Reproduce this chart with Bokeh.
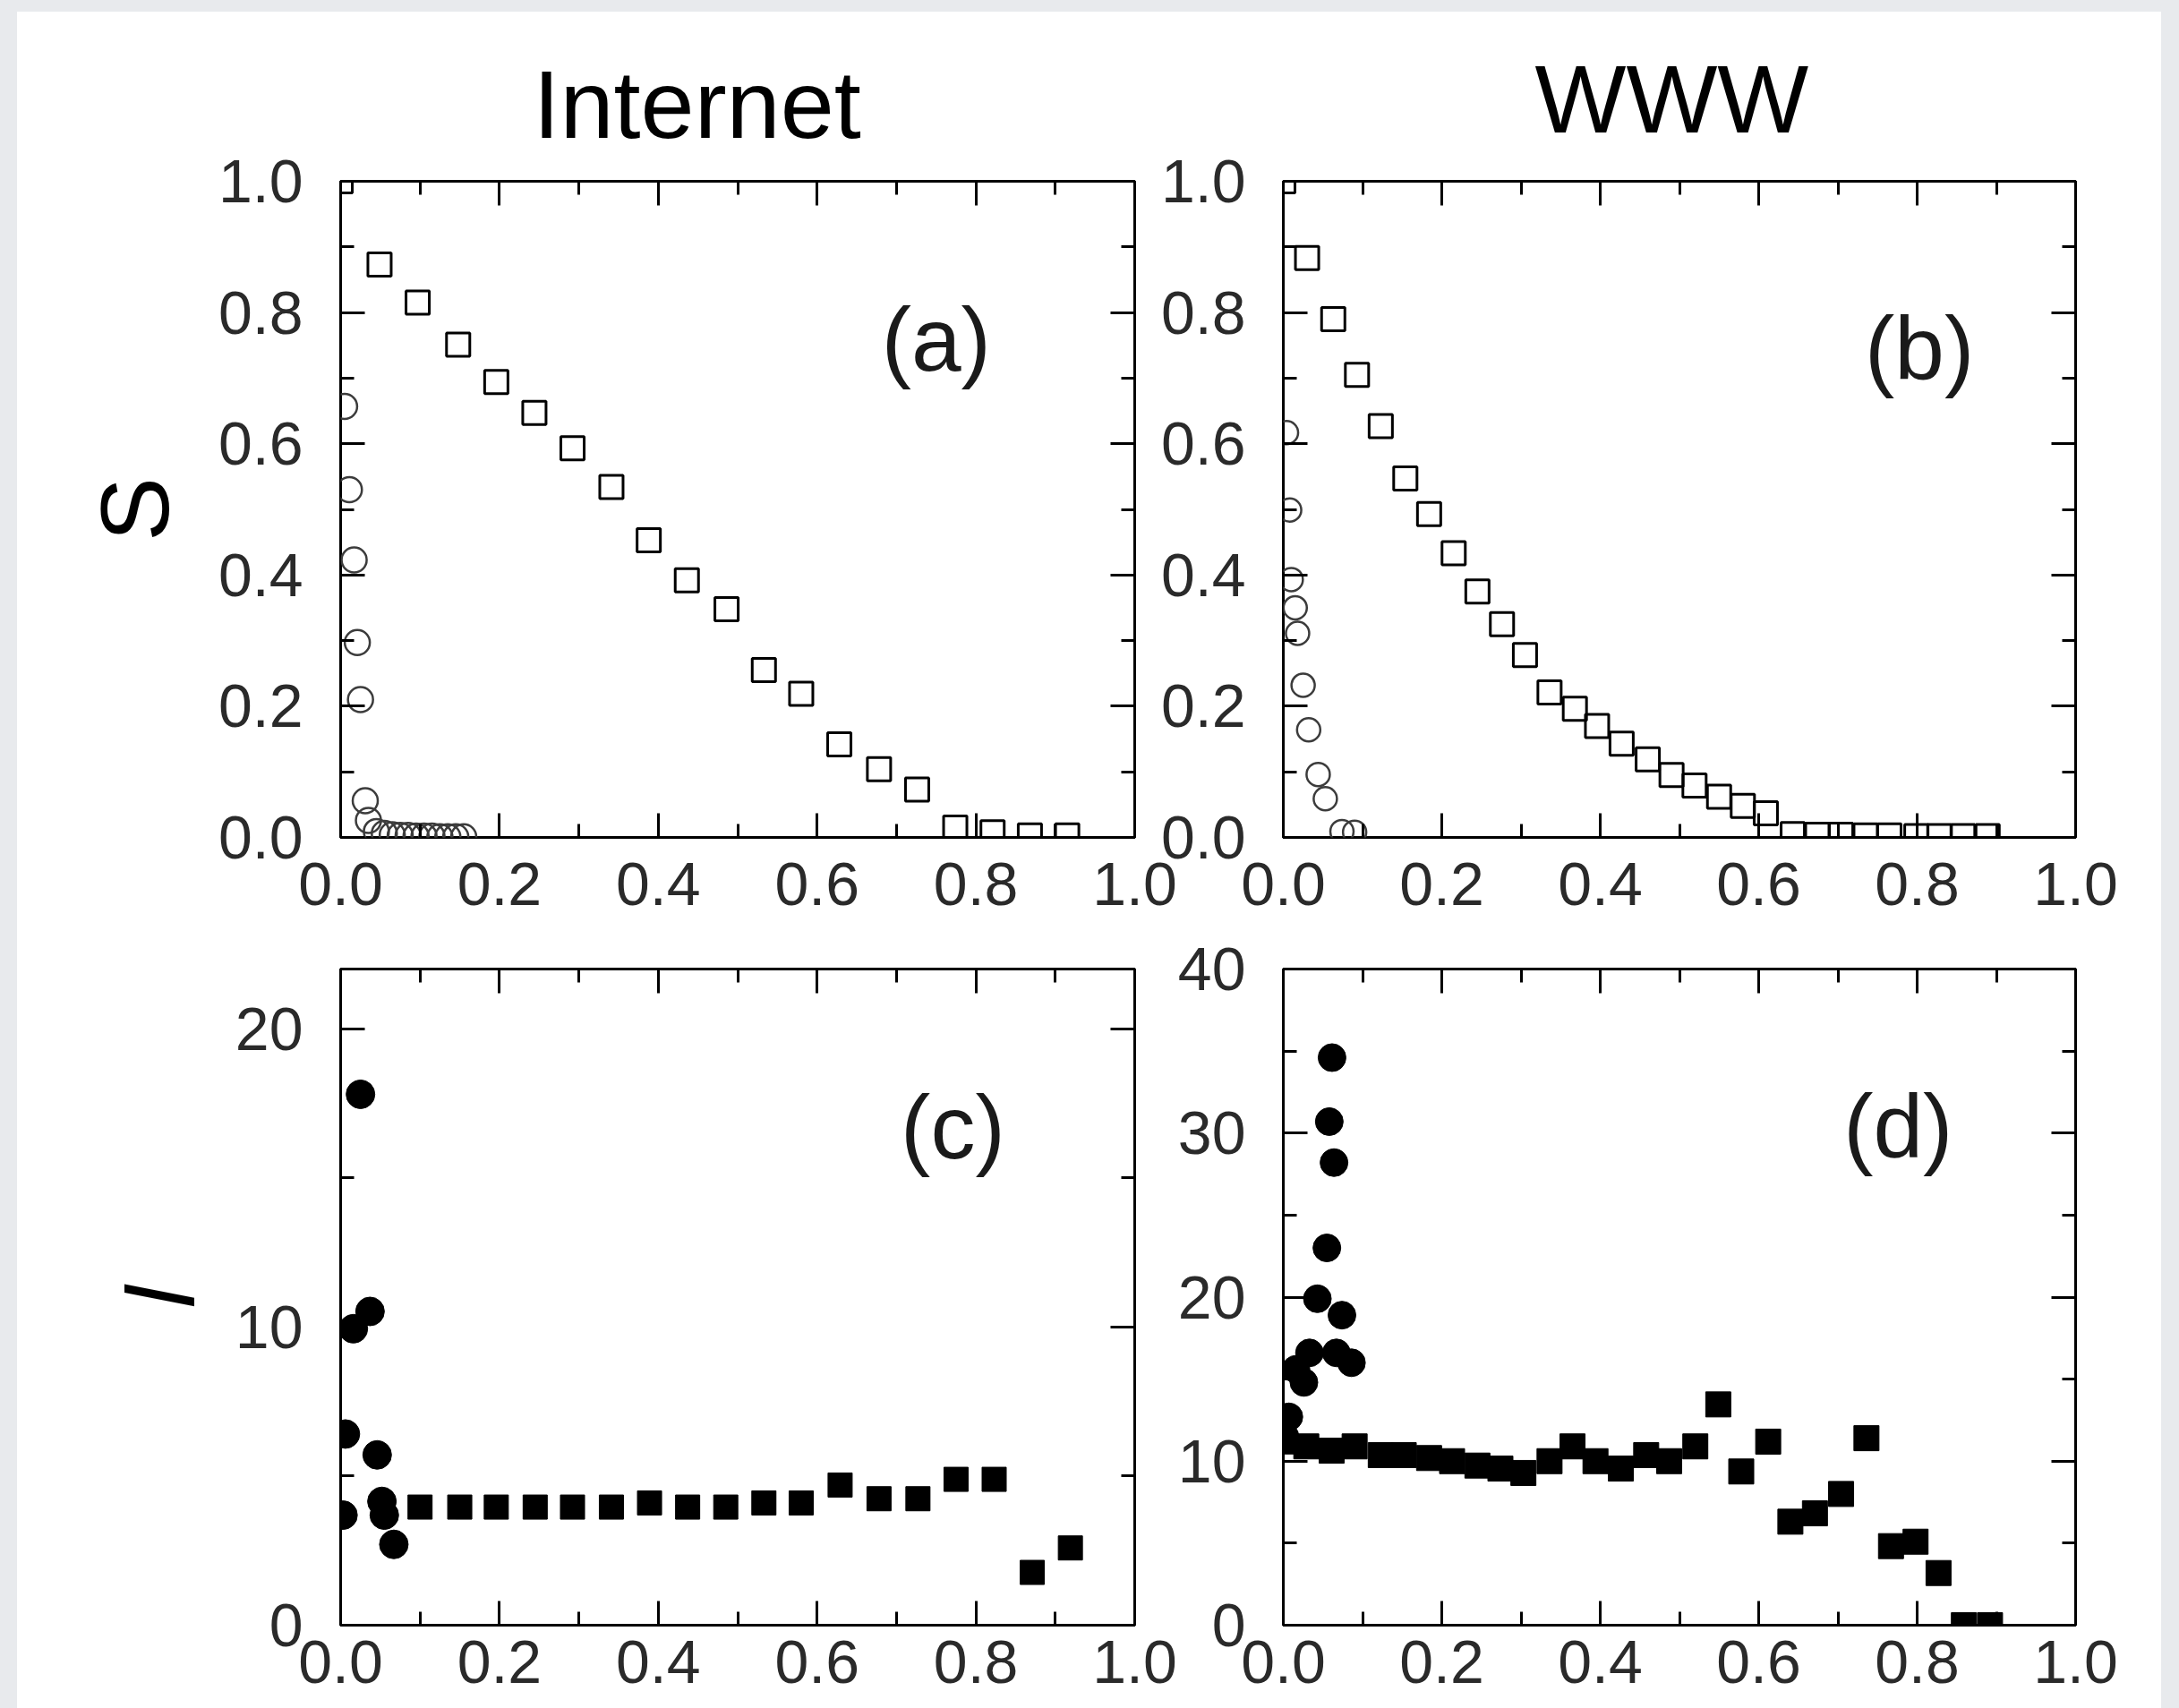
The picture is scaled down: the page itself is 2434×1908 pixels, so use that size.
from bokeh.plotting import figure
from bokeh.models import (LinearAxis, FixedTicker, Range1d, Label, NumeralTickFormatter)
from bokeh.layouts import column, row
from bokeh.embed import file_html
from bokeh.resources import INLINE

FONT = "Liberation Sans"

# ---------------- data ----------------
# (a) Internet, S vs f
a_fail_x = [0.0, 0.049, 0.097, 0.148, 0.196, 0.244, 0.292, 0.341, 0.388, 0.436,
            0.486, 0.533, 0.580, 0.628, 0.678, 0.726, 0.774, 0.821, 0.868, 0.915]
a_fail_S = [1.0, 0.873, 0.815, 0.751, 0.694, 0.647, 0.593, 0.534, 0.453, 0.392,
            0.348, 0.255, 0.219, 0.142, 0.104, 0.073, 0.015, 0.008, 0.003, 0.003]
a_att_x = [0.005, 0.011, 0.017, 0.021, 0.025, 0.031, 0.035, 0.045, 0.055, 0.065,
           0.075, 0.085, 0.095, 0.105, 0.115, 0.125, 0.135, 0.145, 0.155]
a_att_S = [0.657, 0.530, 0.423, 0.297, 0.210, 0.056, 0.026, 0.009, 0.006, 0.004,
           0.003, 0.003, 0.002, 0.002, 0.002, 0.001, 0.001, 0.001, 0.001]

# (b) WWW, S vs f
b_fail_x = [0.0, 0.030, 0.063, 0.093, 0.123, 0.154, 0.184, 0.215, 0.245, 0.276,
            0.305, 0.336, 0.368, 0.396, 0.427, 0.460, 0.490, 0.519, 0.550, 0.580,
            0.609, 0.643, 0.674, 0.704, 0.735, 0.765, 0.799, 0.828, 0.858, 0.889]
b_fail_S = [1.0, 0.883, 0.790, 0.705, 0.627, 0.547, 0.493, 0.433, 0.375, 0.325,
            0.278, 0.221, 0.196, 0.170, 0.143, 0.119, 0.095, 0.079, 0.062, 0.048,
            0.037, 0.005, 0.004, 0.004, 0.003, 0.003, 0.002, 0.002, 0.002, 0.002]
b_att_x = [0.004, 0.008, 0.010, 0.015, 0.018, 0.025, 0.032, 0.044, 0.053, 0.074, 0.090]
b_att_S = [0.617, 0.499, 0.393, 0.350, 0.311, 0.232, 0.164, 0.096, 0.059, 0.009, 0.008]

# (c) Internet, l vs f
c_fail_x = [0.100, 0.150, 0.196, 0.245, 0.292, 0.341, 0.389, 0.437, 0.485, 0.533,
            0.580, 0.629, 0.678, 0.727, 0.775, 0.823, 0.871, 0.919]
c_fail_l = [3.96, 3.96, 3.96, 3.96, 3.96, 3.96, 4.10, 3.96, 3.96, 4.10,
            4.10, 4.70, 4.24, 4.24, 4.89, 4.89, 1.77, 2.59]
c_att_x = [0.003, 0.006, 0.016, 0.025, 0.037, 0.046, 0.052, 0.055, 0.067]
c_att_l = [3.69, 6.41, 9.94, 17.8, 10.52, 5.71, 4.15, 3.69, 2.71]

# (d) WWW, l vs f
d_fail_x = [0.0, 0.029, 0.061, 0.090, 0.123, 0.152, 0.184, 0.213, 0.245, 0.274,
            0.303, 0.336, 0.365, 0.394, 0.426, 0.458, 0.487, 0.520, 0.549, 0.578,
            0.612, 0.640, 0.671, 0.704, 0.736, 0.767, 0.798, 0.827, 0.859, 0.892]
d_fail_l = [11.2, 10.9, 10.64, 10.9, 10.37, 10.37, 10.19, 10.0, 9.73, 9.55,
            9.28, 10.0, 10.9, 10.0, 9.55, 10.37, 10.0, 10.9, 13.46, 9.37,
            11.19, 6.31, 6.82, 8.0, 11.4, 4.82, 5.09, 3.18, 0.0, 0.0]
d_att_x = [0.002, 0.007, 0.016, 0.026, 0.033, 0.043, 0.055, 0.058, 0.0615, 0.064,
           0.067, 0.074, 0.086]
d_att_l = [11.5, 12.7, 15.6, 14.8, 16.6, 19.9, 23.0, 30.7, 34.6, 28.2,
           16.6, 18.9, 16.0]

# ticks
x_ticks = [0.0, 0.2, 0.4, 0.6, 0.8, 1.0]
x_tick_labels = ["0.0", "0.2", "0.4", "0.6", "0.8", "1.0"]
x_minor = [0.1, 0.3, 0.5, 0.7, 0.9]
S_ticks = [0.0, 0.2, 0.4, 0.6, 0.8, 1.0]
S_tick_labels = ["0.0", "0.2", "0.4", "0.6", "0.8", "1.0"]
S_minor = [0.1, 0.3, 0.5, 0.7, 0.9]
lc_ticks = [0, 10, 20]
lc_tick_labels = ["0", "10", "20"]
lc_minor = [5, 15]
ld_ticks = [0, 10, 20, 30, 40]
ld_tick_labels = ["0", "10", "20", "30", "40"]
ld_minor = [5, 15, 25, 35]

titles = ["Internet", "WWW"]
panel_tags = ["(a)", "(b)", "(c)", "(d)"]

FH = 733
MAJ, MIN = 27, 15


def style_axis(ax, ticker, labels, fontsize="68px", standoff=20, hidden=False):
    ax.ticker = ticker
    ax.axis_line_color = None
    ax.major_tick_in = MAJ
    ax.major_tick_out = 0
    ax.minor_tick_in = MIN
    ax.minor_tick_out = 0
    ax.major_tick_line_width = 3
    ax.minor_tick_line_width = 3
    ax.major_tick_line_color = "black"
    ax.minor_tick_line_color = "black"
    if hidden:
        ax.major_label_text_color = None
        ax.major_label_text_font_size = "1px"
        ax.major_label_standoff = 0
    else:
        ax.major_label_overrides = dict(zip(ticker.ticks, labels))
        ax.major_label_text_font = FONT
        ax.major_label_text_font_size = fontsize
        ax.major_label_text_color = "#2a2a2a"
        ax.major_label_standoff = standoff


def make_panel(fw, yr, yt, ytl, ym, fmt, mb, ml, mr, mt, xstd, ystd):
    p = figure(frame_width=fw, frame_height=FH, x_range=Range1d(0, 1.0),
               y_range=Range1d(*yr), output_backend="svg", toolbar_location=None,
               min_border_left=ml, min_border_right=mr, min_border_top=mt,
               min_border_bottom=mb)
    p.grid.visible = False
    p.outline_line_color = "black"
    p.outline_line_width = 3
    p.background_fill_color = "white"
    p.border_fill_color = None
    xt = FixedTicker(ticks=x_ticks, minor_ticks=x_minor)
    ytk = FixedTicker(ticks=yt, minor_ticks=ym)
    p.xaxis.formatter = NumeralTickFormatter(format="0.0")
    p.yaxis.formatter = NumeralTickFormatter(format=fmt)
    style_axis(p.xaxis[0], xt, x_tick_labels, standoff=xstd)
    style_axis(p.yaxis[0], ytk, ytl, standoff=ystd)
    top = LinearAxis()
    style_axis(top, FixedTicker(ticks=x_ticks, minor_ticks=x_minor), None, hidden=True)
    p.add_layout(top, "above")
    right = LinearAxis()
    style_axis(right, FixedTicker(ticks=yt, minor_ticks=ym), None, hidden=True)
    p.add_layout(right, "right")
    return p


def set_title(p, text, offset, standoff):
    p.title.text = text
    p.title.align = "left"
    p.title.offset = offset
    p.title.standoff = standoff
    p.title.text_font = FONT
    p.title.text_font_size = "108px"
    p.title.text_font_style = "normal"
    p.title.text_color = "black"


# (a)
pa = make_panel(887, (0, 1.0), S_ticks, S_tick_labels, S_minor, "0.0",
                mb=104, ml=361, mr=50, mt=189, xstd=28, ystd=42)
pa.yaxis[0].axis_label = "S"
pa.yaxis[0].axis_label_text_font = FONT
pa.yaxis[0].axis_label_text_font_size = "108px"
pa.yaxis[0].axis_label_text_font_style = "normal"
pa.yaxis[0].axis_label_text_color = "black"
pa.yaxis[0].axis_label_standoff = 30
pa.scatter(a_fail_x, a_fail_S, marker="square", size=26, fill_color=None,
           line_color="black", line_width=3)
pa.scatter(a_att_x, a_att_S, marker="circle", size=28, fill_color=None,
           line_color="#3c3c3c", line_width=2.5)
set_title(pa, titles[0], 215, 52)

# (b)
pb = make_panel(885, (0, 1.0), S_ticks, S_tick_labels, S_minor, "0.0",
                mb=104, ml=146, mr=96, mt=189, xstd=28, ystd=42)
pb.margin = (0, 0, 0, -30)
pb.scatter(b_fail_x, b_fail_S, marker="square", size=26, fill_color=None,
           line_color="black", line_width=3)
pb.scatter(b_att_x, b_att_S, marker="circle", size=26, fill_color=None,
           line_color="#3c3c3c", line_width=2.5)
set_title(pb, titles[1], 281, 64)

# (c)
pc = make_panel(887, (0, 22), lc_ticks, lc_tick_labels, lc_minor, "0",
                mb=93, ml=361, mr=50, mt=43, xstd=17, ystd=42)
pc.yaxis[0].axis_label = "l"
pc.yaxis[0].axis_label_text_font = FONT
pc.yaxis[0].axis_label_text_font_size = "108px"
pc.yaxis[0].axis_label_text_font_style = "italic"
pc.yaxis[0].axis_label_text_color = "black"
pc.yaxis[0].axis_label_standoff = 20
pc.scatter(c_fail_x, c_fail_l, marker="square", size=27, fill_color="black",
           line_color="black", line_width=1)
pc.scatter(c_att_x, c_att_l, marker="circle", size=32, fill_color="black",
           line_color="black", line_width=1)

# (d)
pd = make_panel(885, (0, 40), ld_ticks, ld_tick_labels, ld_minor, "0",
                mb=93, ml=146, mr=96, mt=43, xstd=17, ystd=42)
pd.margin = (0, 0, 0, -30)
pd.scatter(d_fail_x, d_fail_l, marker="square", size=28, fill_color="black",
           line_color="black", line_width=1)
pd.scatter(d_att_x, d_att_l, marker="circle", size=31, fill_color="black",
           line_color="black", line_width=1)

# panel tags
for p, (tx, ty), tag in zip([pa, pb, pc, pd],
                            [(0.750, 0.759), (0.803, 0.745), (0.771, 16.7), (0.776, 30.45)],
                            panel_tags):
    p.add_layout(Label(x=tx, y=ty, text=tag, text_align="center",
                       text_baseline="middle", text_font=FONT,
                       text_font_size="100px", text_color="#1a1a1a"))

inner = column(row(pa, pb), row(pc, pd), styles={"background-color": "white"})
layout = column(inner, styles={"background-color": "#e8eaed",
                               "padding": "13px 20px 0px 19px"})

open("out.html", "w").write(file_html(layout, INLINE))
